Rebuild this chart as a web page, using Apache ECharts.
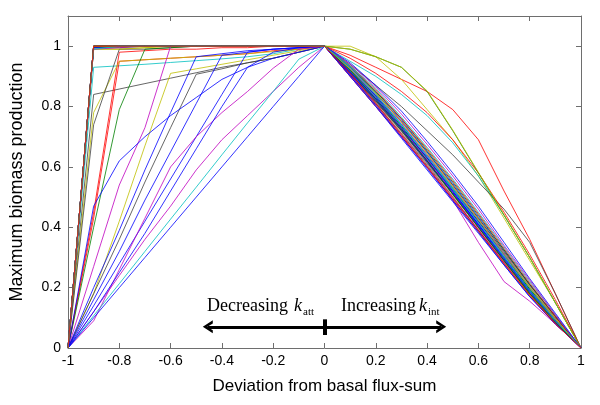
<!DOCTYPE html>
<html>
<head>
<meta charset="utf-8">
<script src="https://cdn.jsdelivr.net/npm/echarts@6/dist/echarts.min.js"></script>
<style>
  html, body { margin: 0; padding: 0; background: #fff; }
  #chart { width: 600px; height: 405px; }
</style>
</head>
<body>
<div id="chart"></div>
<script>
// x positions of the sampled deviations (left half -1..0, right half 0..1)
var xLeft = [-1, -0.9, -0.8, -0.7, -0.6, -0.5, -0.4, -0.3, -0.2, -0.1, 0];
var xRight = [0, 0.1, 0.2, 0.3, 0.4, 0.5, 0.6, 0.7, 0.8, 0.9, 1];
var xTicks = [-1, -0.8, -0.6, -0.4, -0.2, 0, 0.2, 0.4, 0.6, 0.8, 1];
var yTicks = [0, 0.2, 0.4, 0.6, 0.8, 1];

// matlab colour letters
var palette = {
    b: '#0000ff', g: '#008000', r: '#ff0000', c: '#00bfbf',
    m: '#bf00bf', y: '#bfbf00', k: '#404040'
};

var lineColors = [
    'r', 'y', 'c', 'k', 'r', 'r', 'y', 'k', 'g', 'y',
    'm', 'y', 'k', 'b', 'b', 'b', 'b', 'm', 'm', 'c',
    'b', 'b',
    'g', 'b', 'c', 'm', 'y', 'k', 'b', 'g', 'r', 'c',
    'm', 'b', 'k', 'b', 'g', 'y', 'c', 'r'
];

// biomass for decreasing flux-sum (x = -1 .. 0)
var leftCurves = [
    [0, 1, 1, 1, 1, 1, 1, 1, 1, 1, 1],
    [0, 0.99, 0.99, 0.995, 1, 1, 1, 1, 1, 1, 1],
    [0, 0.93, 0.935, 0.94, 0.946, 0.952, 0.958, 0.965, 0.975, 0.99, 1],
    [0, 0.84, 0.858, 0.876, 0.894, 0.912, 0.93, 0.945, 0.96, 0.98, 1],
    [0, 0.45, 0.98, 0.985, 0.99, 0.99, 0.995, 0.995, 1, 1, 1],
    [0, 0.43, 0.95, 0.955, 0.96, 0.965, 0.97, 0.975, 0.985, 0.99, 1],
    [0, 0.78, 0.95, 0.955, 0.96, 0.965, 0.97, 0.975, 0.982, 0.99, 1],
    [0, 0.74, 0.99, 0.99, 0.995, 1, 1, 1, 1, 1, 1],
    [0, 0.4, 0.79, 0.99, 0.995, 1, 1, 1, 1, 1, 1],
    [0, 1, 1, 1, 1, 1, 1, 1, 1, 1, 1],
    [0, 0.27, 0.54, 0.73, 1, 1, 1, 1, 1, 1, 1],
    [0, 0.18, 0.42, 0.67, 0.91, 0.925, 0.94, 0.955, 0.97, 0.985, 1],
    [0, 0.18, 0.36, 0.55, 0.73, 0.907, 0.925, 0.945, 0.96, 0.98, 1],
    [0, 0.2, 0.39, 0.59, 0.78, 0.965, 0.975, 0.985, 0.99, 0.995, 1],
    [0, 0.16, 0.32, 0.49, 0.65, 0.81, 0.97, 0.98, 0.99, 0.995, 1],
    [0, 0.47, 0.62, 0.7, 0.77, 0.83, 0.89, 0.93, 0.96, 0.98, 1],
    [0, 0.14, 0.28, 0.42, 0.56, 0.7, 0.84, 0.98, 0.99, 0.995, 1],
    [0, 0.09, 0.26, 0.43, 0.6, 0.7, 0.78, 0.85, 0.927, 0.99, 1],
    [0, 0.12, 0.24, 0.36, 0.47, 0.59, 0.69, 0.77, 0.85, 0.93, 1],
    [0, 0.107, 0.213, 0.32, 0.427, 0.533, 0.64, 0.746, 0.85, 0.957, 1],
    [0, 0.1, 0.2, 0.3, 0.4, 0.5, 0.6, 0.7, 0.8, 0.9, 1],
    [0, 0.12, 0.25, 0.38, 0.52, 0.66, 0.8, 0.93, 0.98, 0.995, 1],
    [0, 1, 1, 1, 1, 1, 1, 1, 1, 1, 1],
    [0, 1, 1, 1, 1, 1, 1, 1, 1, 1, 1],
    [0, 0.995, 1, 1, 1, 1, 1, 1, 1, 1, 1],
    [0, 1, 1, 1, 1, 1, 1, 1, 1, 1, 1],
    [0, 0.99, 0.99, 0.995, 1, 1, 1, 1, 1, 1, 1],
    [0, 1, 1, 1, 1, 1, 1, 1, 1, 1, 1],
    [0, 1, 1, 1, 1, 1, 1, 1, 1, 1, 1],
    [0, 0.995, 0.995, 1, 1, 1, 1, 1, 1, 1, 1],
    [0, 1, 1, 1, 1, 1, 1, 1, 1, 1, 1],
    [0, 1, 1, 1, 1, 1, 1, 1, 1, 1, 1],
    [0, 0.99, 0.995, 1, 1, 1, 1, 1, 1, 1, 1],
    [0, 1, 1, 1, 1, 1, 1, 1, 1, 1, 1],
    [0, 1, 1, 1, 1, 1, 1, 1, 1, 1, 1],
    [0, 0.995, 1, 1, 1, 1, 1, 1, 1, 1, 1],
    [0, 1, 1, 1, 1, 1, 1, 1, 1, 1, 1],
    [0, 1, 1, 1, 1, 1, 1, 1, 1, 1, 1],
    [0, 0.99, 1, 1, 1, 1, 1, 1, 1, 1, 1],
    [0, 1, 1, 1, 1, 1, 1, 1, 1, 1, 1]
];

// biomass for increasing flux-sum (x = 0 .. 1)
var rightCurves = [
    [1, 0.97, 0.93, 0.89, 0.85, 0.79, 0.69, 0.52, 0.36, 0.18, 0],
    [1, 1, 0.965, 0.89, 0.79, 0.69, 0.57, 0.43, 0.29, 0.15, 0],
    [1, 0.95, 0.9, 0.84, 0.77, 0.68, 0.57, 0.44, 0.3, 0.15, 0],
    [1, 0.94, 0.87, 0.8, 0.72, 0.64, 0.55, 0.46, 0.35, 0.18, 0],
    [1, 0.96, 0.91, 0.85, 0.78, 0.69, 0.58, 0.45, 0.31, 0.16, 0],
    [1, 0.9, 0.8, 0.7, 0.6, 0.49, 0.385, 0.28, 0.175, 0.08, 0],
    [1, 0.9, 0.805, 0.705, 0.6, 0.495, 0.39, 0.28, 0.175, 0.085, 0],
    [1, 0.905, 0.81, 0.71, 0.605, 0.5, 0.39, 0.285, 0.18, 0.085, 0],
    [1, 0.99, 0.965, 0.93, 0.85, 0.72, 0.58, 0.44, 0.3, 0.15, 0],
    [1, 0.99, 0.965, 0.93, 0.852, 0.722, 0.582, 0.442, 0.3, 0.15, 0],
    [1, 0.905, 0.81, 0.71, 0.61, 0.5, 0.395, 0.285, 0.18, 0.085, 0],
    [1, 0.91, 0.815, 0.715, 0.61, 0.505, 0.4, 0.29, 0.18, 0.09, 0],
    [1, 0.91, 0.815, 0.72, 0.615, 0.51, 0.4, 0.29, 0.185, 0.09, 0],
    [1, 0.91, 0.82, 0.72, 0.615, 0.51, 0.405, 0.295, 0.185, 0.09, 0],
    [1, 0.915, 0.82, 0.725, 0.62, 0.515, 0.405, 0.295, 0.19, 0.09, 0],
    [1, 0.915, 0.825, 0.725, 0.62, 0.515, 0.41, 0.3, 0.19, 0.095, 0],
    [1, 0.915, 0.825, 0.73, 0.625, 0.52, 0.41, 0.3, 0.19, 0.095, 0],
    [1, 0.9, 0.8, 0.7, 0.6, 0.49, 0.35, 0.22, 0.155, 0.08, 0],
    [1, 0.92, 0.83, 0.73, 0.625, 0.52, 0.415, 0.305, 0.195, 0.095, 0],
    [1, 0.92, 0.83, 0.735, 0.63, 0.525, 0.415, 0.305, 0.195, 0.095, 0],
    [1, 0.9, 0.8, 0.695, 0.59, 0.485, 0.38, 0.275, 0.17, 0.08, 0],
    [1, 0.905, 0.805, 0.7, 0.595, 0.49, 0.385, 0.275, 0.17, 0.08, 0],
    [1, 0.92, 0.835, 0.735, 0.63, 0.525, 0.42, 0.31, 0.195, 0.1, 0],
    [1, 0.925, 0.835, 0.74, 0.635, 0.53, 0.42, 0.31, 0.2, 0.1, 0],
    [1, 0.925, 0.84, 0.74, 0.64, 0.53, 0.425, 0.315, 0.2, 0.1, 0],
    [1, 0.925, 0.84, 0.745, 0.64, 0.535, 0.425, 0.315, 0.205, 0.1, 0],
    [1, 0.93, 0.845, 0.75, 0.645, 0.54, 0.43, 0.32, 0.205, 0.1, 0],
    [1, 0.93, 0.845, 0.75, 0.65, 0.54, 0.43, 0.32, 0.21, 0.105, 0],
    [1, 0.93, 0.85, 0.755, 0.65, 0.545, 0.435, 0.325, 0.21, 0.105, 0],
    [1, 0.935, 0.85, 0.76, 0.655, 0.55, 0.44, 0.325, 0.21, 0.105, 0],
    [1, 0.935, 0.855, 0.76, 0.66, 0.555, 0.445, 0.33, 0.215, 0.105, 0],
    [1, 0.935, 0.86, 0.765, 0.665, 0.56, 0.45, 0.335, 0.22, 0.11, 0],
    [1, 0.94, 0.865, 0.775, 0.675, 0.57, 0.46, 0.34, 0.225, 0.11, 0],
    [1, 0.945, 0.87, 0.785, 0.685, 0.58, 0.47, 0.35, 0.23, 0.115, 0],
    [1, 0.91, 0.82, 0.72, 0.62, 0.51, 0.4, 0.29, 0.18, 0.09, 0],
    [1, 0.915, 0.83, 0.73, 0.63, 0.52, 0.41, 0.3, 0.19, 0.09, 0],
    [1, 0.92, 0.825, 0.725, 0.62, 0.51, 0.4, 0.29, 0.18, 0.085, 0],
    [1, 0.925, 0.845, 0.75, 0.645, 0.535, 0.425, 0.31, 0.2, 0.095, 0],
    [1, 0.93, 0.84, 0.74, 0.635, 0.525, 0.415, 0.3, 0.19, 0.09, 0],
    [1, 0.91, 0.81, 0.705, 0.6, 0.495, 0.39, 0.28, 0.175, 0.08, 0]
];

// arrow annotation (data coordinates)
var arrowY = 0.07;
var arrowEnds = [-0.455, 0.455];
var markTick = [0.043, 0.095];

var dom = document.getElementById('chart');
var myChart = echarts.init(dom);

var axisGray = '#6e6e6e';
var sansFont = '"Liberation Sans", Arial, sans-serif';
var serifFont = '"Liberation Serif", "Times New Roman", serif';
var chevron = 'path://M5,0 L10,11 L7.6,11 L5,5 L2.4,11 L0,11 Z';

var series = [];
for (var i = 0; i < leftCurves.length; i++) {
    var pts = [];
    for (var j = 0; j < xLeft.length; j++) pts.push([xLeft[j], leftCurves[i][j]]);
    for (var j = 1; j < xRight.length; j++) pts.push([xRight[j], rightCurves[i][j]]);
    series.push({
        type: 'line',
        data: pts,
        showSymbol: false,
        silent: true,
        lineStyle: { width: 1, color: palette[lineColors[i]], opacity: 0.8 },
        z: 2
    });
}

// arrows under the curves
series.push({
    type: 'line',
    data: [[0, arrowY]],
    showSymbol: false,
    silent: true,
    lineStyle: { opacity: 0 },
    markLine: {
        silent: true,
        animation: false,
        label: { show: false },
        lineStyle: { color: '#000', width: 3, type: 'solid' },
        data: [
            [{ coord: [0, arrowY], symbol: 'none' }, { coord: [arrowEnds[0], arrowY], symbol: chevron, symbolSize: [13, 10] }],
            [{ coord: [0, arrowY], symbol: 'none' }, { coord: [arrowEnds[1], arrowY], symbol: chevron, symbolSize: [13, 10] }],
            [{ coord: [0, markTick[0]], symbol: 'none' }, { coord: [0, markTick[1]], symbol: 'none', lineStyle: { width: 4 } }]
        ]
    },
    z: 3
});

function axisCommon(extra) {
    var base = {
        type: 'value',
        axisLine: { show: true, onZero: false, lineStyle: { color: axisGray, width: 1 } },
        axisTick: { show: true, inside: true, length: 5, lineStyle: { color: axisGray } },
        splitLine: { show: false }
    };
    for (var k in extra) base[k] = extra[k];
    return base;
}

var option = {
    animation: false,
    backgroundColor: '#fff',
    grid: { left: 68, right: 19, top: 16, bottom: 57, containLabel: false },
    xAxis: [
        axisCommon({
            min: -1, max: 1, interval: 0.2, position: 'bottom',
            name: 'Deviation from basal flux-sum',
            nameLocation: 'middle', nameGap: 30,
            nameTextStyle: { fontFamily: sansFont, fontSize: 17, color: '#000' },
            axisLabel: {
                margin: 6, fontFamily: sansFont, fontSize: 14, color: '#000',
                formatter: function (v) {
                    for (var t = 0; t < xTicks.length; t++) {
                        if (Math.abs(xTicks[t] - v) < 1e-6) return String(xTicks[t]);
                    }
                    return '';
                }
            }
        }),
        axisCommon({
            min: -1, max: 1, interval: 0.2, position: 'top',
            axisLabel: { show: false }
        })
    ],
    yAxis: [
        axisCommon({
            min: 0, max: 1.1, interval: 0.2, position: 'left',
            name: 'Maximum biomass production',
            nameLocation: 'middle', nameGap: 42, nameRotate: 90,
            nameTextStyle: { fontFamily: sansFont, fontSize: 18, color: '#000' },
            axisLabel: {
                margin: 7, fontFamily: sansFont, fontSize: 14, color: '#000',
                showMaxLabel: false,
                formatter: function (v) {
                    for (var t = 0; t < yTicks.length; t++) {
                        if (Math.abs(yTicks[t] - v) < 1e-6) return String(yTicks[t]);
                    }
                    return '';
                }
            }
        }),
        axisCommon({
            min: 0, max: 1.1, interval: 0.2, position: 'right',
            axisLabel: { show: false }
        })
    ],
    graphic: [
        { type: 'text', left: 207, top: 297, silent: true,
          style: { text: 'Decreasing', font: '18px ' + serifFont, fill: '#000' } },
        { type: 'text', left: 294, top: 297, silent: true,
          style: { text: 'k', font: 'italic 18px ' + serifFont, fill: '#000' } },
        { type: 'text', left: 303, top: 307, silent: true,
          style: { text: 'att', font: '11px ' + serifFont, fill: '#000' } },
        { type: 'text', left: 341, top: 297, silent: true,
          style: { text: 'Increasing', font: '18px ' + serifFont, fill: '#000' } },
        { type: 'text', left: 419, top: 297, silent: true,
          style: { text: 'k', font: 'italic 18px ' + serifFont, fill: '#000' } },
        { type: 'text', left: 428, top: 307, silent: true,
          style: { text: 'int', font: '11px ' + serifFont, fill: '#000' } }
    ],
    series: series
};

if (option && typeof option === 'object') {
    myChart.setOption(option, true);
}
</script>
</body>
</html>
